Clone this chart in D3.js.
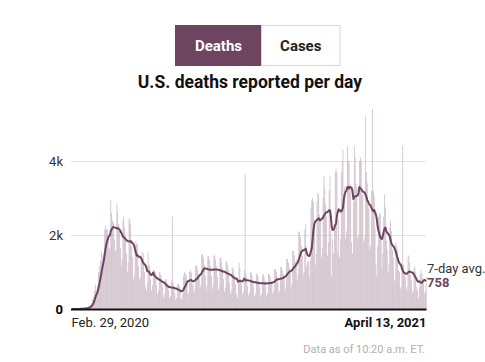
<html>

<head>
    <title>U.S. deaths reported per day</title>
    <script src="https://d3js.org/d3.v7.min.js"></script>
    <style>
        body { margin: 0; background: #fff; }
        text { font-family: Roboto, "Liberation Sans", sans-serif; }
    </style>
</head>

<body>
    <script>
        // daily deaths, one row per week (Sat..Fri), starting Feb 29 2020
        const dailyDeaths = [
            1, 1, 3, 1, 3, 2, 2,
            4, 5, 5, 9, 11, 13, 16,
            13, 12, 25, 33, 48, 53, 80,
            80, 120, 170, 260, 330, 480, 660,
            550, 450, 650, 1000, 1150, 1300, 1550,
            1450, 1300, 1500, 2150, 2250, 2150, 2150,
            2000, 1600, 1650, 2950, 2600, 2400, 2340,
            1900, 1550, 1600, 2850, 2650, 2300, 2200,
            1650, 1150, 1350, 2400, 2500, 2200, 1950,
            1500, 1000, 1250, 2400, 2450, 2300, 1700,
            1400, 800, 900, 1700, 1850, 1750, 1750,
            1150, 800, 850, 1450, 1550, 1300, 1510,
            1000, 600, 500, 700, 1550, 1200, 1170,
            800, 500, 650, 1050, 1050, 1000, 970,
            650, 400, 500, 1000, 950, 900, 780,
            600, 300, 400, 800, 800, 700, 670,
            500, 290, 350, 760, 770, 710, 610,
            430, 250, 300, 680, 680, 620, 540,
            300, 250, 400, 900, 1000, 950, 890,
            720, 400, 450, 1000, 1050, 980, 650,
            740, 435, 520, 1175, 1175, 1090, 955,
            950, 560, 660, 1490, 1480, 1380, 1180,
            900, 530, 640, 1430, 1430, 1330, 1160,
            910, 540, 640, 1450, 1440, 1340, 1170,
            870, 510, 610, 1380, 1380, 1270, 1120,
            810, 470, 570, 1280, 1280, 1190, 1050,
            710, 410, 500, 1120, 1120, 1040, 910,
            680, 400, 300, 700, 1250, 1120, 800,
            660, 390, 470, 1050, 1050, 980, 860,
            620, 370, 440, 990, 990, 910, 790,
            600, 350, 420, 950, 940, 880, 760,
            590, 345, 415, 930, 930, 860, 760,
            610, 340, 430, 960, 930, 870, 760,
            680, 400, 480, 1080, 1080, 1000, 880,
            710, 420, 500, 1130, 1130, 1050, 940,
            850, 500, 600, 1350, 1350, 1250, 1100,
            990, 580, 700, 1570, 1570, 1450, 1260,
            1320, 780, 930, 2090, 2090, 1940, 1700,
            1450, 900, 1000, 2150, 2300, 1150, 1270,
            1300, 850, 1300, 2750, 2950, 3000, 2900,
            2400, 1200, 1500, 2900, 3150, 3100, 2550,
            2400, 1400, 1650, 3000, 3600, 3300, 2850,
            2500, 1450, 1800, 3200, 3600, 2100, 900,
            1900, 1500, 2200, 3700, 3800, 3700, 1550,
            2400, 1400, 1900, 3700, 4000, 4300, 3100,
            3300, 1900, 2100, 4400, 4000, 4000, 3400,
            3200, 1800, 1500, 2900, 4400, 4100, 3400,
            3300, 1900, 2000, 4000, 4100, 4000, 3100,
            3100, 1800, 1900, 3600, 3700, 3400, 2800,
            2700, 1600, 1700, 3200, 3300, 3200, 3060,
            2200, 1200, 900, 1700, 2500, 2600, 2550,
            1900, 1100, 1500, 2500, 3100, 2750, 1850,
            1600, 1000, 1200, 2200, 2400, 2100, 1600,
            1400, 750, 800, 1800, 1700, 1600, 1050,
            1000, 550, 600, 1200, 1300, 1200, 1010,
            850, 520, 600, 1400, 1450, 1250, 930,
            800, 450, 500, 1100, 1150, 1000, 600,
            500, 300, 600, 950, 1050, 950, 830,
            700, 420, 480, 876
        ]

        // one-day backlog dumps, shown in the bars but left out of the average
        const backlogDays = [116, 200, 339, 347, 382]
        const backlogExtra = [1730, 2600, 1600, 2100, 3130]

        const yTicks = [0, 2000, 4000]
        const yTickLabels = ['0', '2k', '4k']
        const xLabels = ['Feb. 29, 2020', 'April 13, 2021']
        const buttons = ['Deaths', 'Cases']

        const plum = '#6d4560'
        const barColor = '#c4b1bd'

        const svg = d3.select('body').append('svg')
            .attr('width', 485)
            .attr('height', 362)

        // toggle buttons
        const btnX = d3.scaleOrdinal().domain(buttons).range([175.5, 261.5])
        const btnW = d3.scaleOrdinal().domain(buttons).range([86, 78.5])
        const btn = svg.selectAll('g.btn')
            .data(buttons)
            .enter().append('g')
            .attr('class', 'btn')
        btn.append('rect')
            .attr('x', d => btnX(d))
            .attr('y', 25.5)
            .attr('width', d => btnW(d))
            .attr('height', 40)
            .attr('fill', (d, i) => i === 0 ? plum : '#fff')
            .attr('stroke', (d, i) => i === 0 ? plum : '#d6d6d6')
        btn.append('text')
            .attr('x', d => btnX(d) + btnW(d) / 2)
            .attr('y', 51)
            .attr('text-anchor', 'middle')
            .attr('font-size', 15)
            .attr('font-weight', 'bold')
            .attr('fill', (d, i) => i === 0 ? '#fff' : '#222')
            .text(d => d)

        svg.append('text')
            .attr('x', 250)
            .attr('y', 88)
            .attr('text-anchor', 'middle')
            .attr('font-size', 17.5)
            .attr('font-weight', 'bold')
            .attr('fill', '#111')
            .text('U.S. deaths reported per day')

        const days = d3.range(dailyDeaths.length)
        const x = d3.scaleBand()
            .domain(days)
            .range([71.5, 426.5])
            .paddingInner(0.25)
        const y = d3.scaleLinear()
            .domain([0, 4000])
            .range([309, 161])

        // grid + y labels
        const yAxis = svg.append('g')
            .attr('transform', 'translate(71,0)')
            .call(d3.axisLeft(y)
                .tickValues(yTicks)
                .tickFormat((d, i) => yTickLabels[i])
                .tickSize(-355)
                .tickPadding(8))
        yAxis.select('.domain').remove()
        yAxis.selectAll('line').attr('stroke', '#e4e4e4')
        yAxis.selectAll('text')
            .attr('font-size', 13)
            .attr('font-family', 'Roboto, sans-serif')
            .attr('font-weight', d => d === 0 ? 'bold' : 'normal')
            .attr('fill', d => d === 0 ? '#000' : '#333')

        const extra = new Array(dailyDeaths.length).fill(0)
        backlogDays.forEach((d, i) => { extra[d] = backlogExtra[i] })

        svg.append('g').selectAll('rect')
            .data(days)
            .enter().append('rect')
            .attr('x', d => x(d))
            .attr('width', x.bandwidth())
            .attr('y', d => y(dailyDeaths[d] + extra[d]))
            .attr('height', d => y(0) - y(dailyDeaths[d] + extra[d]))
            .attr('fill', barColor)

        // trailing 7-day average
        const avg = days.map(i => d3.mean(dailyDeaths.slice(Math.max(0, i - 6), i + 1)))

        svg.append('path')
            .datum(days)
            .attr('fill', 'none')
            .attr('stroke', plum)
            .attr('stroke-width', 2)
            .attr('stroke-linejoin', 'round')
            .attr('d', d3.line()
                .x(d => x(d) + x.bandwidth() / 2)
                .y(d => y(avg[d])))

        // baseline
        svg.append('line')
            .attr('x1', 71)
            .attr('x2', 426.5)
            .attr('y1', y(0) + 0.5)
            .attr('y2', y(0) + 0.5)
            .attr('stroke', '#111')
            .attr('stroke-width', 2)

        svg.append('text')
            .attr('x', x(0))
            .attr('y', 327)
            .attr('font-size', 13)
            .attr('fill', '#222')
            .text(xLabels[0])
        svg.append('text')
            .attr('x', x(days.length - 1) + x.bandwidth())
            .attr('y', 327)
            .attr('text-anchor', 'end')
            .attr('font-size', 13)
            .attr('font-weight', 'bold')
            .attr('fill', '#111')
            .text(xLabels[1])

        const last = days.length - 1
        svg.append('text')
            .attr('x', 427)
            .attr('y', 273)
            .attr('font-size', 13)
            .attr('fill', '#333')
            .text('7-day avg.')
        svg.append('text')
            .attr('x', 427)
            .attr('y', 287)
            .attr('font-size', 13)
            .attr('font-weight', 'bold')
            .attr('fill', plum)
            .text(d3.format(',.0f')(avg[last]))

        svg.append('text')
            .attr('x', 425)
            .attr('y', 353)
            .attr('text-anchor', 'end')
            .attr('font-size', 11)
            .attr('fill', '#b0b0b0')
            .text('Data as of 10:20 a.m. ET.')
    </script>
</body>

</html>
